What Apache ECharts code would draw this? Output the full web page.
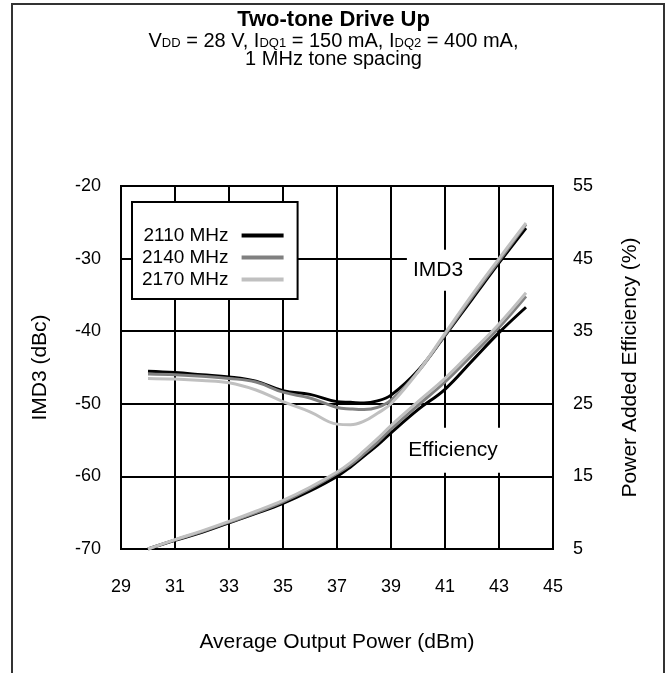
<!DOCTYPE html>
<html>
<head>
<meta charset="utf-8">
<script src="https://cdn.jsdelivr.net/npm/echarts@6/dist/echarts.min.js"></script>
<style>html,body{margin:0;padding:0;background:#fff}#c{width:667px;height:673px}</style>
</head>
<body>
<div id="c"></div>
<script>
var power = [30,31,32,33,34,35,36,37,37.5,38,38.5,39,40,41,42,43,44];
var imd2110 = [-45.5,-45.7,-46.0,-46.3,-46.9,-48.2,-48.7,-49.7,-49.8,-49.9,-49.6,-48.8,-45.4,-40.6,-35.6,-30.6,-25.8];
var imd2140 = [-45.9,-46.0,-46.2,-46.5,-47.0,-48.4,-49.2,-50.5,-50.7,-50.8,-50.5,-49.5,-45.6,-40.5,-35.3,-30.3,-25.3];
var imd2170 = [-46.5,-46.6,-46.8,-47.1,-48.1,-49.7,-51.1,-52.8,-52.9,-52.4,-51.3,-50.0,-45.6,-40.3,-35.0,-30.0,-25.1];
var eff2110 = [5.0,6.2,7.3,8.6,9.9,11.3,13.0,15.0,16.3,17.8,19.3,21.0,24.2,27.0,30.9,34.8,38.3];
var eff2140 = [5.0,6.25,7.4,8.7,10.0,11.5,13.3,15.4,16.6,18.1,19.7,21.5,24.8,28.0,31.7,35.5,39.8];
var eff2170 = [5.0,6.3,7.5,8.8,10.2,11.7,13.5,15.6,16.9,18.5,20.2,22.0,25.3,28.5,32.2,36.0,40.3];
var seriesNames = ['2110 MHz','2140 MHz','2170 MHz'];
var seriesColors = ['#000000','#808080','#c0c0c0'];

function pairs(ys){ return power.map(function(x,i){ return [x, ys[i]]; }); }
var FONT = 'Liberation Sans, Arial, sans-serif';

var chart = echarts.init(document.getElementById('c'), null, {renderer:'canvas'});
var imds = [imd2110, imd2140, imd2170];
var effs = [eff2110, eff2140, eff2170];
var series = [];
for (var k = 0; k < 3; k++) {
  series.push({
    name: seriesNames[k], type: 'line', xAxisIndex: 0, yAxisIndex: 1,
    data: pairs(effs[k]), smooth: 0.4, showSymbol: false, symbol: 'none',
    lineStyle: {color: seriesColors[k], width: 3}, itemStyle: {color: seriesColors[k]}, z: 3
  });
}
for (var k = 0; k < 3; k++) {
  var s = {
    name: seriesNames[k], type: 'line', xAxisIndex: 0, yAxisIndex: 0,
    data: pairs(imds[k]), smooth: 0.4, showSymbol: false, symbol: 'none',
    lineStyle: {color: seriesColors[k], width: 3}, itemStyle: {color: seriesColors[k]}, z: 3
  };
  if (k === 0) {
    s.markPoint = {
      symbol: 'circle', symbolSize: 1, itemStyle: {color: 'rgba(0,0,0,0)'}, z: 2,
      label: {show: true, position: 'inside', color: '#000', fontSize: 21, fontFamily: FONT,
              backgroundColor: '#fff', padding: [10, 6]},
      data: [
        {coord: [40.74, -31.6], label: {formatter: 'IMD3'}},
        {coord: [41.3, -56.4], label: {formatter: 'Efficiency', padding: [12, 4]}}
      ]
    };
  }
  series.push(s);
}

chart.setOption({
  animation: false,
  backgroundColor: '#fff',
  title: {
    left: 'center', top: 4, itemGap: 1,
    text: 'Two-tone Drive Up',
    textStyle: {fontFamily: FONT, fontSize: 22, fontWeight: 'bold', color: '#000'},
    subtext: '{n|V}{s|DD}{n| = 28 V, I}{s|DQ1}{n| = 150 mA, I}{s|DQ2}{n| = 400 mA,}\n{n|1 MHz tone spacing}',
    subtextStyle: {
      color: '#000', fontFamily: FONT, fontSize: 20, lineHeight: 18, align: 'center',
      rich: {
        n: {fontFamily: FONT, fontSize: 20, color: '#000', lineHeight: 18},
        s: {fontFamily: FONT, fontSize: 13, color: '#000', lineHeight: 6, verticalAlign: 'bottom'}
      }
    }
  },
  legend: {
    orient: 'vertical', left: 132, top: 202, align: 'right',
    data: seriesNames.map(function(n){ return {name: n, icon: 'rect'}; }),
    itemWidth: 42, itemHeight: 4, itemGap: 3,
    padding: [24, 14, 10, 10],
    borderColor: '#000', borderWidth: 2, backgroundColor: '#fff',
    textStyle: {fontFamily: FONT, fontSize: 19, color: '#000', padding: [0, 8, 0, 0]},
    selectedMode: false, z: 5
  },
  grid: {left: 121, top: 186, width: 432, height: 363, show: true, borderColor: '#000', borderWidth: 2, backgroundColor: 'transparent', z: 1},
  xAxis: {
    type: 'value', min: 29, max: 45, interval: 1,
    name: 'Average Output Power (dBm)', nameLocation: 'middle', nameGap: 83,
    nameTextStyle: {fontFamily: FONT, fontSize: 21, color: '#000'},
    axisLine: {show: true, lineStyle: {color: '#000', width: 2}},
    axisTick: {show: false},
    axisLabel: {fontFamily: FONT, fontSize: 18, color: '#000', margin: 29,
      formatter: function(v){ return (Math.round(v) % 2 === 1) ? String(v) : ''; }},
    splitLine: {show: true, lineStyle: {color: ['#000', 'rgba(0,0,0,0)'], width: 2}}
  },
  yAxis: [{
    type: 'value', min: -70, max: -20, interval: 10, position: 'left',
    name: 'IMD3 (dBc)', nameLocation: 'middle', nameGap: 70, nameRotate: 90,
    nameTextStyle: {fontFamily: FONT, fontSize: 21, color: '#000'},
    axisLine: {show: true, lineStyle: {color: '#000', width: 2}},
    axisTick: {show: false},
    axisLabel: {fontFamily: FONT, fontSize: 18, color: '#000', margin: 20},
    splitLine: {show: true, lineStyle: {color: '#000', width: 2}}
  }, {
    type: 'value', min: 5, max: 55, interval: 5, position: 'right',
    name: 'Power Added Efficiency (%)', nameLocation: 'middle', nameGap: 67, nameRotate: 90,
    nameTextStyle: {fontFamily: FONT, fontSize: 21, color: '#000'},
    axisLine: {show: true, lineStyle: {color: '#000', width: 2}},
    axisTick: {show: false},
    axisLabel: {fontFamily: FONT, fontSize: 18, color: '#000', margin: 20,
      formatter: function(v){ return (Math.round(v - 5) % 10 === 0) ? String(v) : ''; }},
    splitLine: {show: false}
  }],
  graphic: [{
    type: 'rect', silent: true, z: -10,
    shape: {x: 12, y: 4, width: 652, height: 720},
    style: {fill: 'none', stroke: '#333', lineWidth: 2}
  }],
  series: series
});
</script>
</body>
</html>
